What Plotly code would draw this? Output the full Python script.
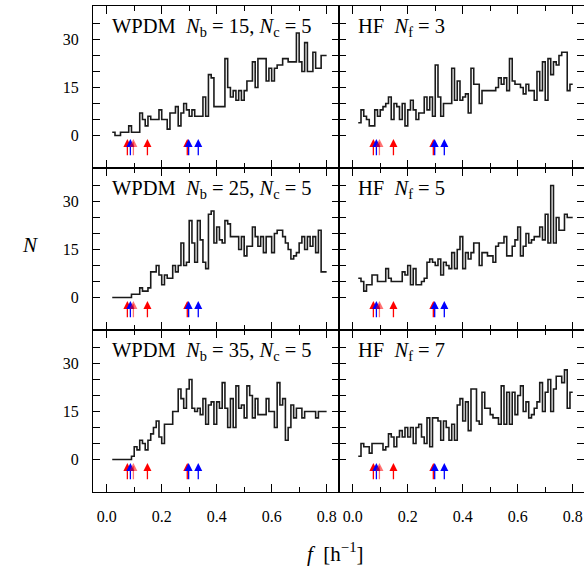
import plotly.graph_objects as go

# Histogram bins: first left edge and bin width [1/h]
BIN_START = 0.02
BIN_WIDTH = 0.01

# Counts per bin, f = 0.02 ... 0.79
wpdm_nb15 = [1, 0, 0, 1, 1, 1, 3, 1, 1, 1,
             7, 5, 3, 6, 5, 5, 5, 8, 5, 5,
             2, 7, 7, 9, 3, 7, 10, 8, 6, 8,
             6, 6, 6, 12, 6, 19, 18, 9, 9, 9,
             9, 24, 15, 12, 14, 11, 14, 11, 14, 17,
             17, 23, 15, 24, 24, 24, 17, 21, 17, 21,
             22, 22, 24, 24, 23, 23, 23, 32, 23, 20,
             29, 20, 20, 26, 21, 21, 25, 25]

hf_nf3 = [4, 8, 6, 5, 3, 3, 8, 6, 8, 9,
          10, 12, 5, 10, 9, 5, 10, 3, 8, 11,
          8, 5, 7, 7, 12, 8, 12, 6, 22, 12,
          6, 10, 10, 10, 21, 11, 17, 11, 12, 13,
          7, 21, 16, 16, 10, 14, 14, 14, 14, 14,
          15, 18, 16, 18, 14, 24, 17, 16, 16, 15,
          13, 16, 14, 14, 11, 20, 14, 23, 11, 24,
          19, 23, 22, 25, 26, 26, 14, 16]

wpdm_nb25 = [0, 0, 0, 0, 0, 0, 0, 1, 1, 1,
             3, 2, 2, 3, 8, 8, 10, 7, 4, 7,
             6, 6, 10, 8, 10, 17, 10, 11, 24, 17,
             11, 24, 18, 11, 9, 26, 27, 17, 22, 18,
             17, 24, 23, 19, 19, 19, 15, 19, 13, 16,
             16, 22, 19, 16, 19, 14, 19, 19, 14, 20,
             21, 21, 19, 17, 15, 12, 13, 14, 17, 19,
             15, 19, 16, 19, 14, 21, 8, 8]

hf_nf5 = [6, 5, 2, 4, 4, 7, 7, 5, 5, 5,
          9, 6, 5, 5, 5, 5, 8, 7, 10, 4,
          9, 4, 4, 5, 6, 11, 12, 11, 10, 12,
          7, 11, 10, 9, 14, 9, 15, 19, 9, 14,
          12, 14, 17, 17, 10, 14, 14, 13, 13, 11,
          16, 17, 17, 19, 13, 13, 16, 18, 22, 13,
          16, 20, 17, 18, 19, 19, 22, 18, 26, 17,
          35, 17, 25, 21, 21, 26, 25, 25]

wpdm_nb35 = [0, 0, 0, 0, 0, 0, 0, 1, 4, 3,
             6, 5, 3, 6, 8, 10, 12, 7, 5, 11,
             11, 11, 15, 15, 22, 19, 16, 22, 25, 16,
             15, 16, 14, 19, 11, 17, 18, 11, 18, 16,
             24, 16, 10, 19, 10, 23, 16, 17, 13, 23,
             20, 13, 19, 14, 14, 14, 19, 15, 15, 10,
             24, 17, 19, 6, 10, 17, 13, 16, 16, 13,
             15, 15, 15, 15, 13, 15, 15, 15]

hf_nf7 = [1, 5, 4, 4, 2, 5, 5, 5, 5, 3,
          4, 8, 7, 4, 7, 9, 7, 10, 7, 10,
          5, 10, 11, 7, 5, 13, 4, 13, 13, 12,
          6, 12, 10, 6, 11, 6, 17, 19, 12, 18,
          9, 22, 22, 12, 11, 21, 16, 16, 14, 13,
          13, 11, 23, 11, 21, 11, 21, 14, 20, 23,
          15, 18, 13, 14, 16, 18, 24, 15, 21, 25,
          15, 22, 26, 26, 24, 28, 16, 21]

# Marked frequencies [1/h] and their colours
arrow_freqs = [0.075, 0.086, 0.097, 0.148, 0.293, 0.298, 0.333]
arrow_colors = ["#ff0000", "#0000ff", "rgba(255,0,0,0.55)", "#ff0000",
                "#ff0000", "#0000ff", "#0000ff"]
ARROW_TAIL = -6.2
ARROW_TIP = -1.1

panel_titles = [
    "WPDM\u00a0\u00a0<i>N</i><sub>b</sub> = 15, <i>N</i><sub>c</sub> = 5",
    "HF\u00a0\u00a0<i>N</i><sub>f</sub> = 3",
    "WPDM\u00a0\u00a0<i>N</i><sub>b</sub> = 25, <i>N</i><sub>c</sub> = 5",
    "HF\u00a0\u00a0<i>N</i><sub>f</sub> = 5",
    "WPDM\u00a0\u00a0<i>N</i><sub>b</sub> = 35, <i>N</i><sub>c</sub> = 5",
    "HF\u00a0\u00a0<i>N</i><sub>f</sub> = 7",
]
panel_data = [wpdm_nb15, hf_nf3, wpdm_nb25, hf_nf5, wpdm_nb35, hf_nf7]

x_major = [0.0, 0.2, 0.4, 0.6, 0.8]
x_major_text = ["0.0", "0.2", "0.4", "0.6", "0.8"]
x_minor = [0.1, 0.3, 0.5, 0.7]
y_major = [0, 15, 30]
y_minor = [5, 10, 20, 25, 35]

FONT = "Liberation Serif"
W, H = 584, 572

# Panel geometry in pixels
col_px = [(93, 339), (339, 584)]
row_px = [(5.5, 167.5), (167.5, 329.5), (329.5, 491.5)]
x_ranges = [[-0.05, 0.845], [-0.05, 0.841]]
y_range = [-10, 40.6]

fig = go.Figure()
layout = dict(
    width=W, height=H, margin=dict(l=0, r=0, t=0, b=0),
    paper_bgcolor="white", plot_bgcolor="white", showlegend=False,
    font=dict(family=FONT, color="black"),
)
annotations = []

for idx, counts in enumerate(panel_data):
    r, c = divmod(idx, 2)
    n = idx + 1
    xa = "xaxis" if n == 1 else f"xaxis{n}"
    ya = "yaxis" if n == 1 else f"yaxis{n}"
    xr = "x" if n == 1 else f"x{n}"
    yr = "y" if n == 1 else f"y{n}"

    edges = [BIN_START + BIN_WIDTH * i for i in range(len(counts) + 1)]
    fig.add_trace(go.Scatter(
        x=edges, y=list(counts) + [counts[-1]], mode="lines",
        line=dict(color="#1a1a1a", width=1.6, shape="hv"),
        xaxis=xr, yaxis=yr, hoverinfo="skip"))

    # frequency markers: shaft plus arrow head at the tip
    for f, col in zip(arrow_freqs, arrow_colors):
        fig.add_trace(go.Scatter(
            x=[f, f], y=[ARROW_TAIL, ARROW_TIP - 1.0], mode="lines",
            line=dict(color=col, width=1.3),
            xaxis=xr, yaxis=yr, hoverinfo="skip"))
        fig.add_trace(go.Scatter(
            x=[f], y=[ARROW_TIP], mode="markers",
            marker=dict(symbol="arrow-up", size=8, color=col,
                        line=dict(width=0)),
            xaxis=xr, yaxis=yr, hoverinfo="skip"))

    x0, x1 = col_px[c]
    y0, y1 = row_px[r]
    bottom = r == 2
    left = c == 0
    layout[xa] = dict(
        domain=[x0 / W, min(x1 / W, 1.0)], range=x_ranges[c],
        anchor=yr, showgrid=False, zeroline=False,
        showline=True, linecolor="black", linewidth=1, mirror="ticks",
        ticks="inside", ticklen=8, tickwidth=1, tickcolor="black",
        tickvals=x_major, ticktext=x_major_text,
        showticklabels=bottom, tickfont=dict(family=FONT, size=16),
        ticklabelstandoff=10,
        minor=dict(tickvals=x_minor, ticks="inside", ticklen=5,
                   tickwidth=1, tickcolor="black"),
    )
    layout[ya] = dict(
        domain=[1 - y1 / H, 1 - y0 / H], range=y_range,
        anchor=xr, showgrid=False, zeroline=False,
        showline=True, linecolor="black", linewidth=1, mirror="ticks",
        ticks="inside", ticklen=7, tickwidth=1, tickcolor="black",
        tickvals=y_major, ticktext=[str(v) for v in y_major],
        showticklabels=left, tickfont=dict(family=FONT, size=16),
        ticklabelstandoff=10,
        minor=dict(tickvals=y_minor, ticks="inside", ticklen=7,
                   tickwidth=1, tickcolor="black"),
    )

    # panel label
    annotations.append(dict(
        text=panel_titles[idx], xref="paper", yref="paper",
        x=(x0 + 17) / W, y=1 - (y0 + 7.5) / H, xanchor="left", yanchor="top",
        showarrow=False, font=dict(family=FONT, size=20.5, color="black")))

# shared axis titles
annotations.append(dict(
    text="<i>N</i>", xref="paper", yref="paper", x=30 / W, y=1 - 245 / H,
    xanchor="center", yanchor="middle", showarrow=False,
    font=dict(family=FONT, size=21, color="black")))
annotations.append(dict(
    text="<i>f</i>\u00a0\u00a0[h<sup>\u22121</sup>]", xref="paper", yref="paper",
    x=335 / W, y=1 - 552 / H, xanchor="center", yanchor="middle",
    showarrow=False, font=dict(family=FONT, size=21, color="black")))

layout["annotations"] = annotations
fig.update_layout(**layout)
fig.write_html("out.html")
